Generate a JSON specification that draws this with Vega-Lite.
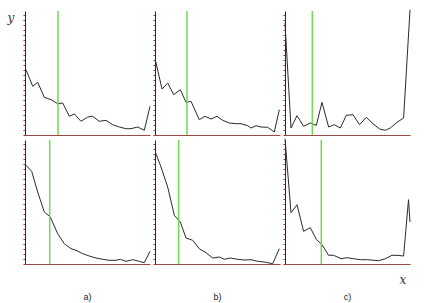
{
  "$schema": "https://vega.github.io/schema/vega-lite/v6.json",
  "padding": {"left": 7, "top": 7, "right": 5, "bottom": 5},
  "data": {"values": [
    {"r":"top","c":"a)","k":"line","x":1,"y":65.3},{"r":"top","c":"a)","k":"line","x":7.7,"y":48.7},{"r":"top","c":"a)","k":"line","x":12.7,"y":52.7},{"r":"top","c":"a)","k":"line","x":19.3,"y":37.7},{"r":"top","c":"a)","k":"line","x":26,"y":35.3},{"r":"top","c":"a)","k":"line","x":32.7,"y":31.3},{"r":"top","c":"a)","k":"line","x":37.7,"y":32},{"r":"top","c":"a)","k":"line","x":44.3,"y":18.7},{"r":"top","c":"a)","k":"line","x":49.3,"y":21},{"r":"top","c":"a)","k":"line","x":56,"y":13.7},{"r":"top","c":"a)","k":"line","x":62.7,"y":18},{"r":"top","c":"a)","k":"line","x":67.7,"y":18.7},{"r":"top","c":"a)","k":"line","x":74.3,"y":13.7},{"r":"top","c":"a)","k":"line","x":81,"y":14.7},{"r":"top","c":"a)","k":"line","x":87.7,"y":10.3},{"r":"top","c":"a)","k":"line","x":94.3,"y":8},{"r":"top","c":"a)","k":"line","x":101,"y":6.3},{"r":"top","c":"a)","k":"line","x":106,"y":6.3},{"r":"top","c":"a)","k":"line","x":112.7,"y":8},{"r":"top","c":"a)","k":"line","x":119.3,"y":4.7},{"r":"top","c":"a)","k":"line","x":125,"y":28.7},
    {"r":"top","c":"b)","k":"line","x":0.3,"y":75.3},{"r":"top","c":"b)","k":"line","x":7,"y":46},{"r":"top","c":"b)","k":"line","x":12.7,"y":52},{"r":"top","c":"b)","k":"line","x":18.7,"y":40.3},{"r":"top","c":"b)","k":"line","x":25.3,"y":45.3},{"r":"top","c":"b)","k":"line","x":31,"y":32.7},{"r":"top","c":"b)","k":"line","x":36,"y":33.7},{"r":"top","c":"b)","k":"line","x":44.3,"y":15.3},{"r":"top","c":"b)","k":"line","x":50,"y":18.7},{"r":"top","c":"b)","k":"line","x":56,"y":16},{"r":"top","c":"b)","k":"line","x":62,"y":18.7},{"r":"top","c":"b)","k":"line","x":67.7,"y":14.7},{"r":"top","c":"b)","k":"line","x":74.3,"y":12},{"r":"top","c":"b)","k":"line","x":81,"y":11.3},{"r":"top","c":"b)","k":"line","x":86,"y":11.3},{"r":"top","c":"b)","k":"line","x":92.7,"y":9.3},{"r":"top","c":"b)","k":"line","x":96,"y":7},{"r":"top","c":"b)","k":"line","x":101,"y":9.3},{"r":"top","c":"b)","k":"line","x":106,"y":8},{"r":"top","c":"b)","k":"line","x":112.7,"y":7.7},{"r":"top","c":"b)","k":"line","x":119.3,"y":3},{"r":"top","c":"b)","k":"line","x":124.3,"y":25.3},
    {"r":"top","c":"c)","k":"line","x":0,"y":112},{"r":"top","c":"c)","k":"line","x":6,"y":7},{"r":"top","c":"c)","k":"line","x":12,"y":19.3},{"r":"top","c":"c)","k":"line","x":18.6,"y":8.7},{"r":"top","c":"c)","k":"line","x":25.3,"y":12},{"r":"top","c":"c)","k":"line","x":31.3,"y":9.7},{"r":"top","c":"c)","k":"line","x":37,"y":32.7},{"r":"top","c":"c)","k":"line","x":43.6,"y":8},{"r":"top","c":"c)","k":"line","x":49.3,"y":10.3},{"r":"top","c":"c)","k":"line","x":55.3,"y":7},{"r":"top","c":"c)","k":"line","x":61.3,"y":19.7},{"r":"top","c":"c)","k":"line","x":68,"y":20.3},{"r":"top","c":"c)","k":"line","x":74.6,"y":10.3},{"r":"top","c":"c)","k":"line","x":81.3,"y":17.7},{"r":"top","c":"c)","k":"line","x":88,"y":11.3},{"r":"top","c":"c)","k":"line","x":94.6,"y":6},{"r":"top","c":"c)","k":"line","x":100.3,"y":4.7},{"r":"top","c":"c)","k":"line","x":105.3,"y":7},{"r":"top","c":"c)","k":"line","x":112,"y":12.7},{"r":"top","c":"c)","k":"line","x":118.6,"y":17},{"r":"top","c":"c)","k":"line","x":125,"y":125.3},
    {"r":"bottom","c":"a)","k":"line","x":1,"y":98.7},{"r":"bottom","c":"a)","k":"line","x":6.7,"y":92.7},{"r":"bottom","c":"a)","k":"line","x":12.7,"y":72},{"r":"bottom","c":"a)","k":"line","x":19.3,"y":52},{"r":"bottom","c":"a)","k":"line","x":25.3,"y":47},{"r":"bottom","c":"a)","k":"line","x":32.7,"y":30.3},{"r":"bottom","c":"a)","k":"line","x":39.3,"y":20.3},{"r":"bottom","c":"a)","k":"line","x":46,"y":15.3},{"r":"bottom","c":"a)","k":"line","x":51,"y":13.7},{"r":"bottom","c":"a)","k":"line","x":57.7,"y":10.3},{"r":"bottom","c":"a)","k":"line","x":64.3,"y":8},{"r":"bottom","c":"a)","k":"line","x":71,"y":6},{"r":"bottom","c":"a)","k":"line","x":77.7,"y":4.7},{"r":"bottom","c":"a)","k":"line","x":84.3,"y":3.7},{"r":"bottom","c":"a)","k":"line","x":91,"y":3.7},{"r":"bottom","c":"a)","k":"line","x":95.3,"y":4.7},{"r":"bottom","c":"a)","k":"line","x":101,"y":2.7},{"r":"bottom","c":"a)","k":"line","x":107.7,"y":4.3},{"r":"bottom","c":"a)","k":"line","x":114.3,"y":2.7},{"r":"bottom","c":"a)","k":"line","x":119.3,"y":1.3},{"r":"bottom","c":"a)","k":"line","x":125,"y":12.7},
    {"r":"bottom","c":"b)","k":"line","x":0.3,"y":112},{"r":"bottom","c":"b)","k":"line","x":6,"y":97},{"r":"bottom","c":"b)","k":"line","x":12.7,"y":77},{"r":"bottom","c":"b)","k":"line","x":19.3,"y":48.7},{"r":"bottom","c":"b)","k":"line","x":25.3,"y":42},{"r":"bottom","c":"b)","k":"line","x":31,"y":26},{"r":"bottom","c":"b)","k":"line","x":37.7,"y":23.7},{"r":"bottom","c":"b)","k":"line","x":44.3,"y":15.3},{"r":"bottom","c":"b)","k":"line","x":51,"y":11.3},{"r":"bottom","c":"b)","k":"line","x":57.7,"y":6},{"r":"bottom","c":"b)","k":"line","x":64.3,"y":7},{"r":"bottom","c":"b)","k":"line","x":69.3,"y":4.7},{"r":"bottom","c":"b)","k":"line","x":75.3,"y":6},{"r":"bottom","c":"b)","k":"line","x":82.7,"y":4.7},{"r":"bottom","c":"b)","k":"line","x":89.3,"y":4},{"r":"bottom","c":"b)","k":"line","x":96,"y":4.3},{"r":"bottom","c":"b)","k":"line","x":102.7,"y":2.7},{"r":"bottom","c":"b)","k":"line","x":109.3,"y":2},{"r":"bottom","c":"b)","k":"line","x":117.7,"y":0.3},{"r":"bottom","c":"b)","k":"line","x":124.3,"y":15.3},
    {"r":"bottom","c":"c)","k":"line","x":0,"y":125.3},{"r":"bottom","c":"c)","k":"line","x":6,"y":51.3},{"r":"bottom","c":"c)","k":"line","x":12,"y":59.3},{"r":"bottom","c":"c)","k":"line","x":18.6,"y":32.7},{"r":"bottom","c":"c)","k":"line","x":25.3,"y":36.3},{"r":"bottom","c":"c)","k":"line","x":31.3,"y":24.7},{"r":"bottom","c":"c)","k":"line","x":37,"y":19.3},{"r":"bottom","c":"c)","k":"line","x":43.6,"y":8.7},{"r":"bottom","c":"c)","k":"line","x":48.6,"y":8.7},{"r":"bottom","c":"c)","k":"line","x":56,"y":5.3},{"r":"bottom","c":"c)","k":"line","x":62,"y":6.3},{"r":"bottom","c":"c)","k":"line","x":68.6,"y":5.3},{"r":"bottom","c":"c)","k":"line","x":75.3,"y":4.3},{"r":"bottom","c":"c)","k":"line","x":82.6,"y":4.3},{"r":"bottom","c":"c)","k":"line","x":88.6,"y":3.7},{"r":"bottom","c":"c)","k":"line","x":93.6,"y":3.3},{"r":"bottom","c":"c)","k":"line","x":100.3,"y":5.3},{"r":"bottom","c":"c)","k":"line","x":107,"y":8.7},{"r":"bottom","c":"c)","k":"line","x":112,"y":8.7},{"r":"bottom","c":"c)","k":"line","x":118.6,"y":8},{"r":"bottom","c":"c)","k":"line","x":123.5,"y":64.3},{"r":"bottom","c":"c)","k":"line","x":125,"y":42},
    {"r":"top","c":"a)","k":"green","x":33},{"r":"top","c":"b)","k":"green","x":32},{"r":"top","c":"c)","k":"green","x":27.3},
    {"r":"bottom","c":"a)","k":"green","x":24.7},{"r":"bottom","c":"b)","k":"green","x":23.7},{"r":"bottom","c":"c)","k":"green","x":36.3},
    {"r":"top","c":"a)","k":"lab","t":"y"},{"r":"bottom","c":"c)","k":"lab","t":"x"}
  ]},
  "facet": {
    "row": {"field": "r", "type": "nominal", "sort": ["top", "bottom"], "header": {"labels": false, "title": null}},
    "column": {"field": "c", "type": "nominal", "sort": ["a)", "b)", "c)"], "header": {"title": null, "labelOrient": "bottom", "labelPadding": 29, "labelFont": "Liberation Sans", "labelFontSize": 9, "labelColor": "#222222"}}
  },
  "spacing": {"row": 5, "column": 5},
  "bounds": "flush",
  "resolve": {"axis": {"x": "independent", "y": "independent"}},
  "spec": {
    "width": 125,
    "height": 124,
    "layer": [
      {
        "transform": [{"filter": "datum.k === 'line'"}],
        "mark": {"type": "line", "color": "#2a2a2a", "strokeWidth": 1},
        "encoding": {
          "x": {"field": "x", "type": "quantitative", "title": null, "scale": {"domain": [0, 125], "nice": false, "zero": false}},
          "y": {"field": "y", "type": "quantitative", "title": null, "scale": {"domain": [0, 124], "nice": false}}
        }
      },
      {
        "transform": [{"filter": "datum.k === 'green'"}],
        "mark": {"type": "rule", "color": "#72d852", "strokeWidth": 1.5},
        "encoding": {"x": {"field": "x", "type": "quantitative", "title": null}}
      },
      {
        "transform": [{"filter": "datum.t === 'y'"}],
        "mark": {"type": "text", "font": "DejaVu Serif", "fontStyle": "italic", "fontSize": 12, "color": "#333333", "baseline": "middle", "align": "center"},
        "encoding": {"x": {"datum": -14, "type": "quantitative", "title": null}, "y": {"datum": 117, "type": "quantitative", "title": null}, "text": {"field": "t"}}
      },
      {
        "transform": [{"filter": "datum.t === 'x'"}],
        "mark": {"type": "text", "font": "DejaVu Serif", "fontStyle": "italic", "fontSize": 12, "color": "#333333", "baseline": "middle", "align": "center"},
        "encoding": {"x": {"datum": 118, "type": "quantitative", "title": null}, "y": {"datum": -16, "type": "quantitative", "title": null}, "text": {"field": "t"}}
      }
    ]
  },
  "config": {
    "view": {"stroke": null},
    "background": "white",
    "axisX": {"domainColor": "#a04848", "domainWidth": 1.2, "ticks": false, "labels": false, "grid": false},
    "axisY": {"domainColor": "#3a2222", "tickColor": "#9a3a3a", "tickSize": 2, "tickCount": 25, "labels": false, "grid": false}
  }
}
